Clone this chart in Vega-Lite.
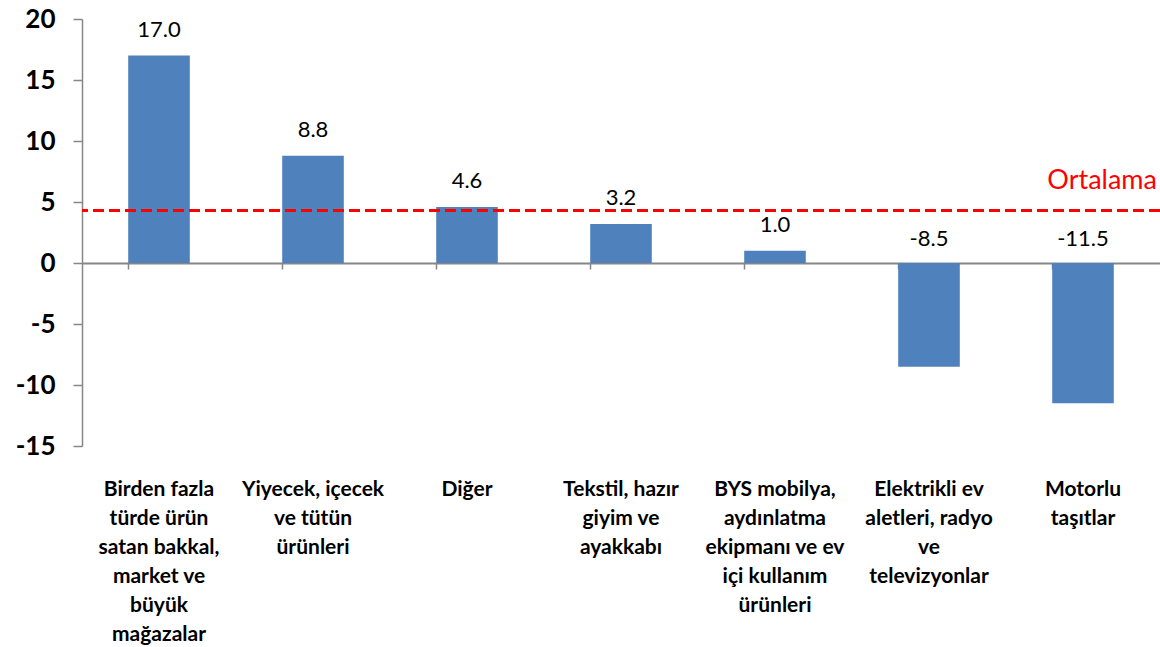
{
  "$schema": "https://vega.github.io/schema/vega-lite/v6.json",
  "width": 1078,
  "height": 427,
  "autosize": {"type": "none"},
  "padding": {"left": 82, "top": 19, "right": 0, "bottom": 201},
  "background": "white",
  "config": {"view": {"stroke": null}, "font": "Lato"},
  "datasets": {
    "seri": [
      {"kategori": "Birden fazla\ntürde ürün\nsatan bakkal,\nmarket ve\nbüyük\nmağazalar", "deger": 17.0},
      {"kategori": "Yiyecek, içecek\nve tütün\nürünleri", "deger": 8.8},
      {"kategori": "Diğer", "deger": 4.6},
      {"kategori": "Tekstil, hazır\ngiyim ve\nayakkabı", "deger": 3.2},
      {"kategori": "BYS mobilya,\naydınlatma\nekipmanı ve ev\niçi kullanım\nürünleri", "deger": 1.0},
      {"kategori": "Elektrikli ev\naletleri, radyo\nve\ntelevizyonlar", "deger": -8.5},
      {"kategori": "Motorlu\ntaşıtlar", "deger": -11.5}
    ],
    "ortalama": [
      {"etiket": "Ortalama", "ortalama": 4.3, "kategori": "Motorlu\ntaşıtlar"}
    ]
  },
  "data": {"name": "seri"},
  "resolve": {"axis": {"x": "independent"}},
  "layer": [
    {
      "mark": {"type": "bar", "color": "#4F81BD"},
      "encoding": {
        "x": {
          "field": "kategori", "type": "nominal", "sort": null,
          "scale": {"paddingInner": 0.6, "paddingOuter": 0.3},
          "axis": {
            "title": null, "orient": "bottom", "domain": false, "ticks": false,
            "labelAngle": 0, "labelFont": "Lato", "labelFontSize": 21, "labelFontWeight": "bold",
            "labelColor": "#000000", "labelLineHeight": 29, "labelPadding": 32,
            "labelBaseline": "top", "labelLimit": 0, "labelOverlap": false,
            "labelExpr": "split(datum.value, '\\n')"
          }
        },
        "y": {
          "field": "deger", "type": "quantitative",
          "scale": {"domain": [-15, 20], "nice": false, "zero": false},
          "axis": {
            "title": null, "values": [-15, -10, -5, 0, 5, 10, 15, 20], "grid": false,
            "domainColor": "#868686", "domainWidth": 1.5, "tickColor": "#868686", "tickSize": 9, "tickWidth": 1.5,
            "labelFont": "Lato", "labelFontSize": 26, "labelFontWeight": "bold", "labelColor": "#000000",
            "labelPadding": 18, "labelExpr": "toString(datum.value)"
          }
        }
      }
    },
    {
      "transform": [{"filter": "datum.deger >= 0"}],
      "mark": {"type": "text", "fontSize": 22, "baseline": "alphabetic", "dy": -19, "color": "#000000", "font": "Lato",
        "text": {"expr": "replace(format(datum.deger, '.1f'), '\u2212', '-')"}},
      "encoding": {
        "x": {
          "field": "kategori", "type": "nominal", "sort": null,
          "axis": {
            "title": null, "orient": "bottom", "offset": -183, "labels": false,
            "domain": true, "domainColor": "#868686", "domainWidth": 2,
            "ticks": true, "tickColor": "#868686", "tickSize": 6, "tickWidth": 1.5, "bandPosition": 0
          }
        },
        "y": {"field": "deger", "type": "quantitative"}
      }
    },
    {
      "transform": [{"filter": "datum.deger < 0"}],
      "mark": {"type": "text", "fontSize": 22, "baseline": "alphabetic", "dy": -17, "color": "#000000", "font": "Lato",
        "text": {"expr": "replace(format(datum.deger, '.1f'), '\u2212', '-')"}},
      "encoding": {
        "x": {"field": "kategori", "type": "nominal", "sort": null, "axis": null},
        "y": {"datum": 0}
      }
    },
    {
      "data": {"name": "ortalama"},
      "mark": {"type": "rule", "color": "#FF0000", "strokeWidth": 3, "strokeDash": [11, 5]},
      "encoding": {"y": {"field": "ortalama", "type": "quantitative"}}
    },
    {
      "data": {"name": "ortalama"},
      "mark": {"type": "text", "fontSize": 27, "align": "right", "baseline": "alphabetic", "dy": -22, "dx": 74, "color": "#FF0000", "font": "Lato"},
      "encoding": {
        "x": {"field": "kategori", "type": "nominal", "sort": null, "axis": null},
        "y": {"field": "ortalama", "type": "quantitative"},
        "text": {"field": "etiket"}
      }
    }
  ]
}
